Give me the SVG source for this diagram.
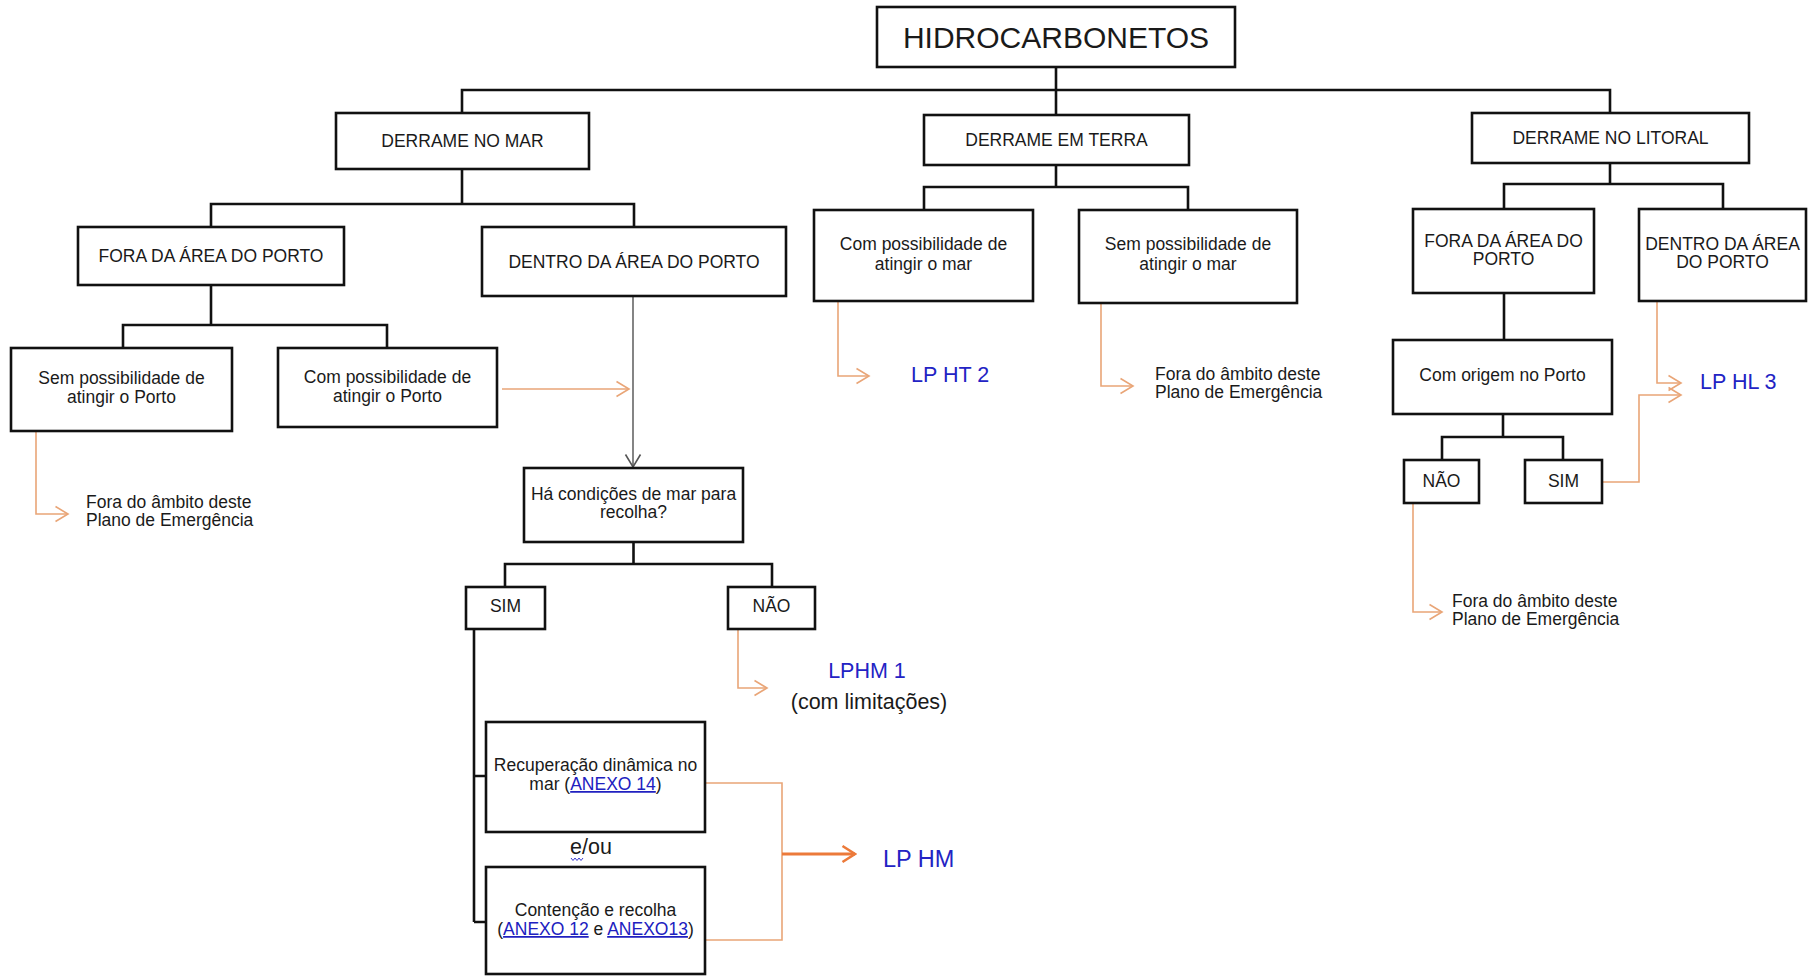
<svg xmlns="http://www.w3.org/2000/svg" width="1808" height="976" viewBox="0 0 1808 976">
  <style>
    .box { fill: #ffffff; stroke: #111111; stroke-width: 2.6; }
    .t { font-family: "Liberation Sans", Arial, sans-serif; font-size: 17.5px; fill: #1a1a1a; text-anchor: middle; }
    .tl { font-family: "Liberation Sans", Arial, sans-serif; font-size: 17.5px; fill: #1a1a1a; }
    .lp { font-family: "Liberation Sans", Arial, sans-serif; font-size: 21.5px; fill: #2323c4; }
    .big { font-size: 30px; }
    .link { fill: #2020c0; text-decoration: underline; }
    .tree { fill: none; stroke: #111111; stroke-width: 2.6; }
    .flow { fill: none; stroke: #e9a577; stroke-width: 1.6; }
    .flow-strong { fill: none; stroke: #ec7a3a; stroke-width: 2.8; }
    .down { fill: none; stroke: #666666; stroke-width: 1.6; }
  </style>
  <defs>
    <marker id="chev" viewBox="0 0 16 18" refX="14" refY="9" markerWidth="16" markerHeight="18" orient="auto" markerUnits="userSpaceOnUse">
      <path d="M1.5,1.5 L14,9 L1.5,16.5" fill="none" stroke="#e9a577" stroke-width="1.6"/>
    </marker>
    <marker id="chev-strong" viewBox="0 0 16 20" refX="14" refY="10" markerWidth="16" markerHeight="20" orient="auto" markerUnits="userSpaceOnUse">
      <path d="M1.5,2 L14,10 L1.5,18" fill="none" stroke="#ec7a3a" stroke-width="2.6"/>
    </marker>
    <marker id="chev-grey" viewBox="0 0 16 18" refX="14" refY="9" markerWidth="16" markerHeight="18" orient="auto" markerUnits="userSpaceOnUse">
      <path d="M1.5,1.5 L14,9 L1.5,16.5" fill="none" stroke="#555555" stroke-width="1.6"/>
    </marker>
  </defs>

  <rect width="1808" height="976" fill="#ffffff"/>

  <!-- connectors -->
  <g id="connectors">
    <!-- hierarchy (black) -->
    <path class="tree" d="M1056,67 V115"/>
    <path class="tree" d="M462,113 V90 H1610 V113"/>
    <path class="tree" d="M462,169 V204"/>
    <path class="tree" d="M211,227 V204 H634 V227"/>
    <path class="tree" d="M211,285 V325"/>
    <path class="tree" d="M123,348 V325 H387 V348"/>
    <path class="tree" d="M1056,165 V187"/>
    <path class="tree" d="M924,210 V187 H1188 V210"/>
    <path class="tree" d="M1610,163 V184"/>
    <path class="tree" d="M1504,209 V184 H1723 V209"/>
    <path class="tree" d="M1504,293 V340"/>
    <path class="tree" d="M1503,414 V437"/>
    <path class="tree" d="M1442,460 V437 H1563 V460"/>
    <path class="tree" d="M633.5,542 V564"/>
    <path class="tree" d="M505,587 V564 H772 V587"/>
    <path class="tree" d="M474,629 V922 M474,776 H486 M474,922 H486"/>

    <!-- grey descent into the question -->
    <path class="down" d="M633,296 V467" marker-end="url(#chev-grey)"/>

    <!-- orange outcome arrows -->
    <path class="flow" d="M36,431 V514 H68" marker-end="url(#chev)"/>
    <path class="flow" d="M502,389 H629" marker-end="url(#chev)"/>
    <path class="flow" d="M738,629 V688 H767" marker-end="url(#chev)"/>
    <path class="flow" d="M838,301 V376 H869" marker-end="url(#chev)"/>
    <path class="flow" d="M1101,303 V386 H1133" marker-end="url(#chev)"/>
    <path class="flow" d="M1657,301 V383 H1681" marker-end="url(#chev)"/>
    <path class="flow" d="M1602,482 H1639 V395 H1681" marker-end="url(#chev)"/>
    <path class="flow" d="M1413,503 V612 H1442" marker-end="url(#chev)"/>
    <path class="flow" d="M705,783 H782 V940 H705"/>
    <path class="flow-strong" d="M782,854 H855" marker-end="url(#chev-strong)"/>
  </g>

  <!-- nodes -->
  <g id="hidrocarbonetos">
    <rect class="box" x="877" y="7" width="358" height="60"/>
    <text class="t big" x="1056" y="48">HIDROCARBONETOS</text>
  </g>

  <g id="derrame-mar">
    <rect class="box" x="336" y="113" width="253" height="56"/>
    <text class="t" x="462.5" y="147">DERRAME NO MAR</text>
  </g>
  <g id="derrame-terra">
    <rect class="box" x="924" y="115" width="265" height="50"/>
    <text class="t" x="1056.5" y="146">DERRAME EM TERRA</text>
  </g>
  <g id="derrame-litoral">
    <rect class="box" x="1472" y="113" width="277" height="50"/>
    <text class="t" x="1610.5" y="144">DERRAME NO LITORAL</text>
  </g>

  <g id="mar-fora">
    <rect class="box" x="78" y="227" width="266" height="58"/>
    <text class="t" x="211" y="262">FORA DA ÁREA DO PORTO</text>
  </g>
  <g id="mar-dentro">
    <rect class="box" x="482" y="227" width="304" height="69"/>
    <text class="t" x="634" y="268">DENTRO DA ÁREA DO PORTO</text>
  </g>

  <g id="sem-porto">
    <rect class="box" x="11" y="348" width="221" height="83"/>
    <text class="t" x="121.5" y="384">Sem possibilidade de</text>
    <text class="t" x="121.5" y="403">atingir o Porto</text>
  </g>
  <g id="com-porto">
    <rect class="box" x="278" y="348" width="219" height="79"/>
    <text class="t" x="387.5" y="383">Com possibilidade de</text>
    <text class="t" x="387.5" y="402">atingir o Porto</text>
  </g>
  <g id="fora-ambito-1">
    <text class="tl" x="86" y="508">Fora do âmbito deste</text>
    <text class="tl" x="86" y="526">Plano de Emergência</text>
  </g>

  <g id="condicoes">
    <rect class="box" x="524" y="468" width="219" height="74"/>
    <text class="t" x="633.5" y="500">Há condições de mar para</text>
    <text class="t" x="633.5" y="518">recolha?</text>
  </g>
  <g id="cond-sim">
    <rect class="box" x="466" y="587" width="79" height="42"/>
    <text class="t" x="505.5" y="612">SIM</text>
  </g>
  <g id="cond-nao">
    <rect class="box" x="728" y="587" width="87" height="42"/>
    <text class="t" x="771.5" y="612">NÃO</text>
  </g>
  <g id="lphm1">
    <text class="lp" x="867" y="678" text-anchor="middle">LPHM 1</text>
    <text class="lp" x="869" y="709" text-anchor="middle" fill="#1a1a1a" style="fill:#1a1a1a">(com limitações)</text>
  </g>

  <g id="recuperacao">
    <rect class="box" x="486" y="722" width="219" height="110"/>
    <text class="t" x="595.5" y="771">Recuperação dinâmica no</text>
    <text class="t" x="595.5" y="790">mar (<tspan class="link">ANEXO 14</tspan>)</text>
  </g>
  <g id="e-ou">
    <text class="tl" x="570" y="854" style="font-size:21.5px">e/ou</text>
    <path d="M571,858 l2,2.5 l2,-2.5 l2,2.5 l2,-2.5 l2,2.5 l2,-2.5" fill="none" stroke="#3b3bd0" stroke-width="1"/>
  </g>
  <g id="contencao">
    <rect class="box" x="486" y="867" width="219" height="107"/>
    <text class="t" x="595.5" y="916">Contenção e recolha</text>
    <text class="t" x="595.5" y="935">(<tspan class="link">ANEXO 12</tspan> e <tspan class="link">ANEXO13</tspan>)</text>
  </g>
  <g id="lphm">
    <text class="lp" x="883" y="867" style="font-size:23.5px">LP HM</text>
  </g>

  <g id="terra-com">
    <rect class="box" x="814" y="210" width="219" height="91"/>
    <text class="t" x="923.5" y="250">Com possibilidade de</text>
    <text class="t" x="923.5" y="270">atingir o mar</text>
  </g>
  <g id="terra-sem">
    <rect class="box" x="1079" y="210" width="218" height="93"/>
    <text class="t" x="1188" y="250">Sem possibilidade de</text>
    <text class="t" x="1188" y="270">atingir o mar</text>
  </g>
  <g id="lpht2">
    <text class="lp" x="911" y="382">LP HT 2</text>
  </g>
  <g id="fora-ambito-2">
    <text class="tl" x="1155" y="380">Fora do âmbito deste</text>
    <text class="tl" x="1155" y="398">Plano de Emergência</text>
  </g>

  <g id="litoral-fora">
    <rect class="box" x="1413" y="209" width="181" height="84"/>
    <text class="t" x="1503.5" y="247">FORA DA ÁREA DO</text>
    <text class="t" x="1503.5" y="265">PORTO</text>
  </g>
  <g id="litoral-dentro">
    <rect class="box" x="1639" y="209" width="167" height="92"/>
    <text class="t" x="1722.5" y="250">DENTRO DA ÁREA</text>
    <text class="t" x="1722.5" y="268">DO PORTO</text>
  </g>
  <g id="origem-porto">
    <rect class="box" x="1393" y="340" width="219" height="74"/>
    <text class="t" x="1502.5" y="381">Com origem no Porto</text>
  </g>
  <g id="origem-nao">
    <rect class="box" x="1404" y="460" width="75" height="43"/>
    <text class="t" x="1441.5" y="487">NÃO</text>
  </g>
  <g id="origem-sim">
    <rect class="box" x="1525" y="460" width="77" height="43"/>
    <text class="t" x="1563.5" y="487">SIM</text>
  </g>
  <g id="lphl3">
    <text class="lp" x="1700" y="389">LP HL 3</text>
  </g>
  <g id="fora-ambito-3">
    <text class="tl" x="1452" y="607">Fora do âmbito deste</text>
    <text class="tl" x="1452" y="625">Plano de Emergência</text>
  </g>
</svg>
